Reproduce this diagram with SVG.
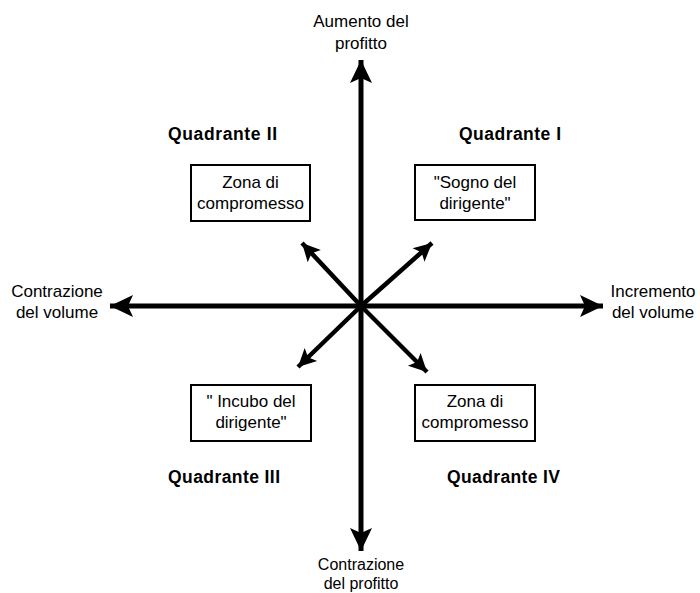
<svg xmlns="http://www.w3.org/2000/svg" width="700" height="593" viewBox="0 0 700 593">
  <style>
    text { font-family: "Liberation Sans", Arial, sans-serif; font-size: 17px; fill: #000; text-anchor: middle; }
    .small { font-size: 16px; }
    .quad { font-weight: bold; font-size: 17.5px; text-anchor: start; }
    .box { fill: #fff; stroke: #000; stroke-width: 2; }
    .axis { stroke: #000; stroke-width: 5; fill: none; }
    .diag { stroke: #000; stroke-width: 4.5; fill: none; }
  </style>
  <defs>
    <marker id="headBig" markerUnits="userSpaceOnUse" viewBox="-24 -12 26 24" refX="0" refY="0" markerWidth="26" markerHeight="24" orient="auto">
      <path d="M0,0 L-23,-11 L-18,0 L-23,11 Z" fill="#000"/>
    </marker>
    <marker id="headSmall" markerUnits="userSpaceOnUse" viewBox="-20 -11 22 22" refX="0" refY="0" markerWidth="22" markerHeight="22" orient="auto">
      <path d="M0,0 L-18,-9 L-14,0 L-18,9 Z" fill="#000"/>
    </marker>
  </defs>

  <rect width="700" height="593" fill="#fff"/>

  <!-- connectors: axes and diagonal arrows -->
  <g id="connectors">
    <line class="axis" x1="361" y1="306" x2="361" y2="60" marker-end="url(#headBig)"/>
    <line class="axis" x1="361" y1="306" x2="361" y2="551" marker-end="url(#headBig)"/>
    <line class="axis" x1="361" y1="306" x2="110" y2="306" marker-end="url(#headBig)"/>
    <line class="axis" x1="361" y1="306" x2="603" y2="306" marker-end="url(#headBig)"/>
    <line class="diag" x1="361" y1="306" x2="302" y2="243" marker-end="url(#headSmall)"/>
    <line class="diag" x1="361" y1="306" x2="432" y2="243" marker-end="url(#headSmall)"/>
    <line class="diag" x1="361" y1="306" x2="298" y2="367" marker-end="url(#headSmall)"/>
    <line class="diag" x1="361" y1="306" x2="427" y2="372" marker-end="url(#headSmall)"/>
  </g>

  <!-- axis labels -->
  <g id="label-top">
    <text x="361" y="27">Aumento del</text>
    <text x="361" y="49">profitto</text>
  </g>
  <g id="label-bottom">
    <text class="small" x="361" y="570">Contrazione</text>
    <text class="small" x="361" y="589">del profitto</text>
  </g>
  <g id="label-left">
    <text x="57" y="297">Contrazione</text>
    <text x="57" y="318">del volume</text>
  </g>
  <g id="label-right">
    <text x="653" y="297">Incremento</text>
    <text x="653" y="318">del volume</text>
  </g>

  <!-- quadrant titles -->
  <g id="quadrant-2"><text class="quad" x="168" y="140" textLength="109">Quadrante II</text></g>
  <g id="quadrant-1"><text class="quad" x="459" y="140" textLength="102">Quadrante I</text></g>
  <g id="quadrant-3"><text class="quad" x="168" y="483" textLength="112">Quadrante III</text></g>
  <g id="quadrant-4"><text class="quad" x="447" y="483" textLength="113">Quadrante IV</text></g>

  <!-- quadrant boxes -->
  <g id="box-q2">
    <rect class="box" x="191" y="165" width="119" height="56"/>
    <text x="250.5" y="188">Zona di</text>
    <text x="250.5" y="209">compromesso</text>
  </g>
  <g id="box-q1">
    <rect class="box" x="415" y="165" width="120" height="55"/>
    <text x="475" y="188">"Sogno del</text>
    <text x="475" y="209">dirigente"</text>
  </g>
  <g id="box-q3">
    <rect class="box" x="191" y="385" width="120" height="56"/>
    <text x="251" y="407">" Incubo del</text>
    <text x="251" y="428">dirigente"</text>
  </g>
  <g id="box-q4">
    <rect class="box" x="415" y="385" width="120" height="56"/>
    <text x="475" y="407">Zona di</text>
    <text x="475" y="428">compromesso</text>
  </g>
</svg>
